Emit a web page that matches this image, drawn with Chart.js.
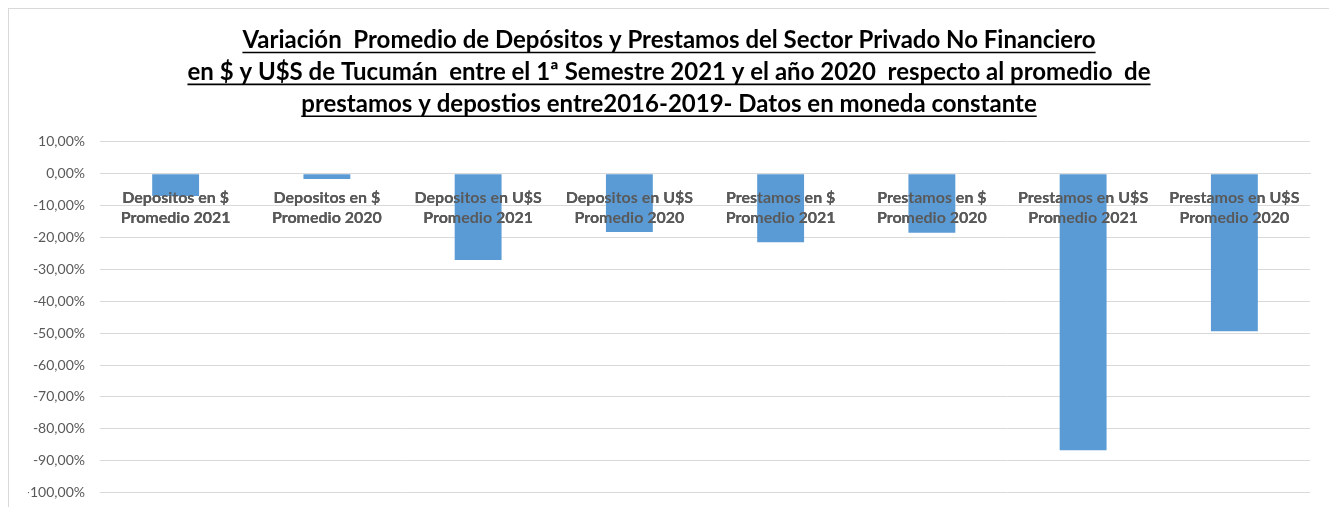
<!DOCTYPE html>
<html>
<head>
<meta charset="utf-8">
<script src="https://cdn.jsdelivr.net/npm/chart.js@4"></script>
<style>
  html, body { margin: 0; padding: 0; background: #fff; overflow: hidden; }
  #wrap { width: 1329px; height: 516px; position: relative; }
</style>
</head>
<body>
<div id="wrap"><canvas id="chart"></canvas></div>
<script>
    const categories = [
        ['Depositos en $', 'Promedio 2021'],
        ['Depositos en $', 'Promedio 2020'],
        ['Depositos en U$S', 'Promedio 2021'],
        ['Depositos en U$S', 'Promedio 2020'],
        ['Prestamos en $', 'Promedio 2021'],
        ['Prestamos en $', 'Promedio 2020'],
        ['Prestamos en U$S', 'Promedio 2021'],
        ['Prestamos en U$S', 'Promedio 2020']
    ];
    const variacion = [-7.0, -1.7, -27.1, -18.3, -21.5, -18.5, -86.7, -49.4];

    const titleLines = [
        'Variación  Promedio de Depósitos y Prestamos del Sector Privado No Financiero',
        'en $ y U$S de Tucumán  entre el 1ª Semestre 2021 y el año 2020  respecto al promedio  de',
        'prestamos y depostios entre2016-2019- Datos en moneda constante'
    ];

    const titleFont = { family: 'Lato', size: 24, weight: 'bold', lineHeight: 1.33 };

    // frame, category labels above the bars, underlined title
    const decor = {
        id: 'decor',
        beforeDraw(chart) {
            const ctx = chart.ctx;
            ctx.save();
            ctx.strokeStyle = '#d9d9d9';
            ctx.lineWidth = 1;
            ctx.strokeRect(8.5, 8.5, 1400, 600);
            ctx.restore();
        },
        afterDatasetsDraw(chart) {
            chart.scales.x.drawLabels(chart.chartArea);
        },
        afterDraw(chart) {
            const tb = chart.titleBlock;
            const ctx = chart.ctx;
            const lh = titleFont.size * titleFont.lineHeight;
            const cx = (tb.left + tb.right) / 2;
            ctx.save();
            ctx.font = 'bold ' + titleFont.size + 'px Lato';
            ctx.strokeStyle = '#000';
            ctx.lineWidth = 1.6;
            titleLines.forEach((line, i) => {
                const w = ctx.measureText(line).width;
                const y = tb.top + tb.options.padding.top + lh * i + lh / 2 + 12.5;
                ctx.beginPath();
                ctx.moveTo(cx - w / 2, y);
                ctx.lineTo(cx + w / 2, y);
                ctx.stroke();
            });
            ctx.restore();
        }
    };

    const ctx = document.getElementById('chart');

    new Chart(ctx, {
        type: 'bar',
        data: {
            labels: categories,
            datasets: [{
                label: 'Variación',
                data: variacion,
                backgroundColor: '#5b9bd5',
                barPercentage: 0.31,
                categoryPercentage: 1
            }]
        },
        options: {
            responsive: true,
            maintainAspectRatio: false,
            animation: false,
            layout: { padding: { left: 28, right: 19, bottom: 6, top: 0 } },
            plugins: {
                legend: { display: false },
                tooltip: { enabled: false },
                title: {
                    display: true,
                    text: titleLines,
                    color: '#000',
                    font: titleFont,
                    padding: { top: 24, bottom: 22 }
                }
            },
            scales: {
                x: {
                    position: { y: 0 },
                    grid: { display: false, drawTicks: false },
                    border: { color: '#d9d9d9' },
                    ticks: {
                        color: '#595959',
                        padding: 14,
                        maxRotation: 0,
                        autoSkip: false,
                        font: { family: 'Lato', size: 16, weight: 'bold', lineHeight: 1.25 }
                    }
                },
                y: {
                    min: -100,
                    max: 10,
                    afterFit(scale) { scale.width = 72; },
                    grid: { color: '#d9d9d9', drawTicks: false },
                    border: { display: false },
                    ticks: {
                        stepSize: 10,
                        color: '#595959',
                        padding: 15,
                        font: { family: 'Lato', size: 14 },
                        callback: (v) => v.toFixed(2).replace('.', ',') + '%'
                    }
                }
            }
        },
        plugins: [decor]
    });
</script>
</body>
</html>
